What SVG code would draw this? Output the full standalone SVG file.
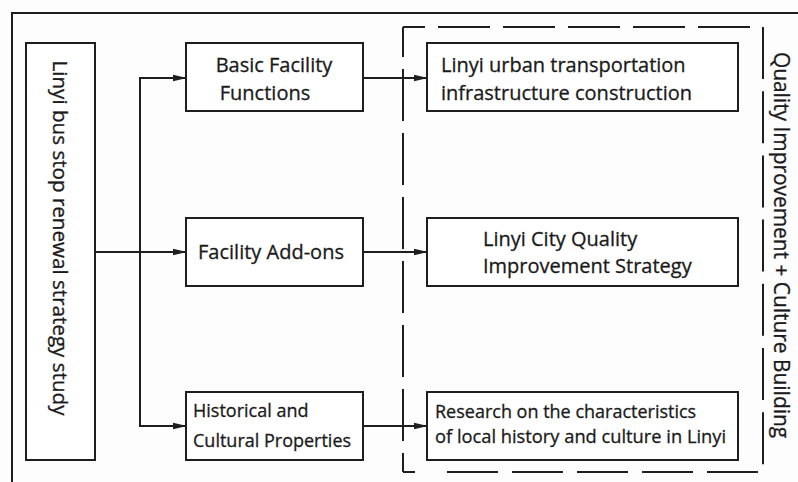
<svg xmlns="http://www.w3.org/2000/svg" width="798" height="482" viewBox="0 0 798 482">
  <style>
    .box { fill: #ffffff; stroke: #1e1e1e; stroke-width: 2; }
    .line { fill: none; stroke: #1e1e1e; stroke-width: 2; }
    .dash { fill: none; stroke: #1e1e1e; stroke-width: 2; }
    .t { font-family: "Open Sans", "Noto Sans", "DejaVu Sans", sans-serif; fill: #1a1a1a; stroke: #1a1a1a; stroke-width: 0.3; }
    .t20 { font-size: 20px; }
    .t18 { font-size: 18px; }
    .side { font-size: 20.6px; }
  </style>
  <defs>
    <marker id="arrow" viewBox="0 0 14 8" refX="13" refY="4" markerWidth="14" markerHeight="8" markerUnits="userSpaceOnUse" orient="auto">
      <path d="M0,0.8 L14,4 L0,7.2 Z" fill="#1e1e1e"/>
    </marker>
  </defs>

  <rect x="0" y="0" width="798" height="482" fill="#fdfdfd"/>

  <!-- outer frame (top and left edges) -->
  <rect class="line" x="12" y="13" width="800" height="480"/>

  <!-- dashed grouping frame -->
  <g id="dashed-frame">
    <line class="dash" x1="750" y1="27" x2="403" y2="27" stroke-dasharray="52 13"/>
    <line class="dash" x1="763" y1="27" x2="763" y2="472" stroke-dasharray="52 12.2"/>
    <line class="dash" x1="758" y1="472" x2="403" y2="472" stroke-dasharray="51 14 51 14 51 14 51 14 51 32 13"/>
    <line class="dash" x1="403" y1="472" x2="403" y2="27" stroke-dasharray="19 12 52 12 52 12 52 12 52 12 52 12 52 12 40"/>
  </g>

  <g id="connectors">
    <line class="line" x1="95" y1="252" x2="186" y2="252" marker-end="url(#arrow)"/>
    <polyline class="line" points="140,252 140,78 186,78" marker-end="url(#arrow)"/>
    <polyline class="line" points="140,252 140,426 186,426" marker-end="url(#arrow)"/>
    <line class="line" x1="363" y1="78" x2="427" y2="78" marker-end="url(#arrow)"/>
    <line class="line" x1="363" y1="252" x2="427" y2="252" marker-end="url(#arrow)"/>
    <line class="line" x1="363" y1="426" x2="427" y2="426" marker-end="url(#arrow)"/>
  </g>

  <g id="study">
    <rect class="box" x="26" y="43" width="69" height="417"/>
    <text class="t side" transform="translate(53,238) rotate(90)" text-anchor="middle">Linyi bus stop renewal strategy study</text>
  </g>

  <g id="basic-facility">
    <rect class="box" x="186" y="43" width="177" height="68"/>
    <text class="t t20" x="274" y="72" text-anchor="middle">Basic Facility</text>
    <text class="t t20" x="265" y="100" text-anchor="middle">Functions</text>
  </g>

  <g id="facility-addons">
    <rect class="box" x="186" y="218" width="177" height="68"/>
    <text class="t t20" x="271" y="259" text-anchor="middle">Facility Add-ons</text>
  </g>

  <g id="historical-cultural">
    <rect class="box" x="186" y="392" width="177" height="68"/>
    <text class="t t18" x="193" y="417">Historical and</text>
    <text class="t t18" x="193" y="447">Cultural Properties</text>
  </g>

  <g id="transport-infrastructure">
    <rect class="box" x="427" y="43" width="311" height="68"/>
    <text class="t t20" x="441" y="72">Linyi urban transportation</text>
    <text class="t t20" x="441" y="100">infrastructure construction</text>
  </g>

  <g id="quality-strategy">
    <rect class="box" x="427" y="218" width="311" height="68"/>
    <text class="t t20" x="483" y="246">Linyi City Quality</text>
    <text class="t t20" x="483" y="273">Improvement Strategy</text>
  </g>

  <g id="history-culture-research">
    <rect class="box" x="427" y="392" width="311" height="68"/>
    <text class="t t18" x="435" y="418">Research on the characteristics</text>
    <text class="t" x="435" y="443" style="font-size:18.3px">of local history and culture in Linyi</text>
  </g>

  <g id="frame-label">
    <text class="t" transform="translate(774,245) rotate(90)" text-anchor="middle" style="font-size:20.9px">Quality Improvement + Culture Building</text>
  </g>
</svg>
